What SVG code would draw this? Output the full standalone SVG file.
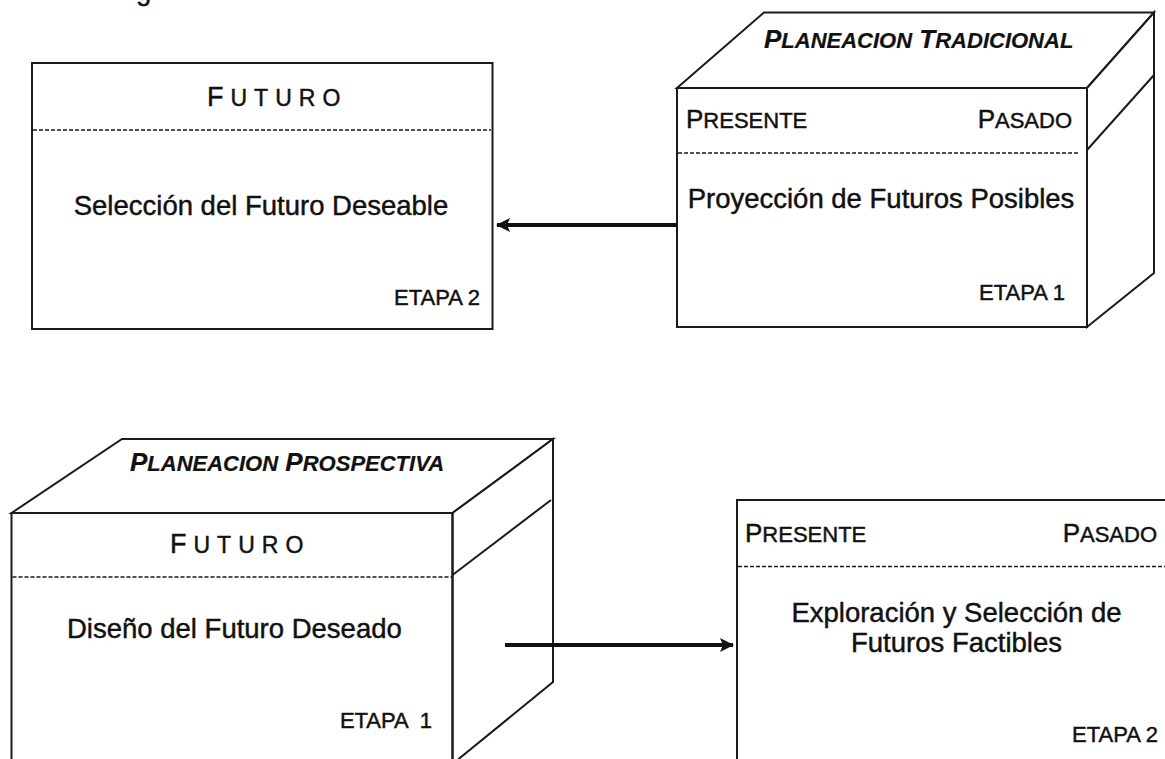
<svg xmlns="http://www.w3.org/2000/svg" width="1165" height="759" viewBox="0 0 1165 759">
<style>
.edge{fill:none;stroke:#1a1a1a;stroke-width:2;stroke-linejoin:miter}
.face{fill:#fff;stroke:#1a1a1a;stroke-width:2}
.dash{fill:none;stroke:#1a1a1a;stroke-width:1.6;stroke-dasharray:4 2}
.conn{fill:none;stroke:#111;stroke-width:4}
text{font-family:"Liberation Sans",Arial,Helvetica,sans-serif;fill:#111;stroke:#111;stroke-width:0.45}
.body{font-size:27.5px}
.etapa{font-size:22px}
.sc{font-size:26px}
.sc tspan.s{font-size:22px}
.title{font-size:26px;font-weight:bold;font-style:italic;stroke-width:0.2}
.title tspan.s{font-size:22px}
.fut{font-size:27px;letter-spacing:7px}
.fut tspan.s{font-size:23px}
</style>
<defs>
<marker id="ah" viewBox="0 0 14 14" refX="13" refY="7" markerWidth="14" markerHeight="14" markerUnits="userSpaceOnUse" orient="auto">
<path d="M0,0 L14,7 L0,14 L3,7 Z" fill="#111"/>
</marker>
</defs>
<rect width="1165" height="759" fill="#fff"/>
<text x="136" y="0" class="body">g</text>

<g id="trad-etapa2">
<rect class="face" x="32" y="63" width="460.5" height="266"/>
<line class="dash" x1="33" y1="130" x2="491" y2="130"/>
<text class="fut" x="207" y="106">F<tspan class="s">UTURO</tspan></text>
<text class="body" x="261" y="215" text-anchor="middle">Selección del Futuro Deseable</text>
<text class="etapa" x="480" y="305" text-anchor="end">ETAPA 2</text>
</g>

<g id="trad-etapa1">
<polygon class="face" points="677,88 764,12.5 1154,12.5 1087,88"/>
<polygon class="face" points="1087,88 1154,12.5 1154,273 1087,327"/>
<line class="edge" x1="1087" y1="150" x2="1154" y2="75"/>
<rect class="face" x="677" y="88" width="410" height="239"/>
<line class="dash" x1="678" y1="153" x2="1080" y2="153"/>
<text class="title" x="764" y="48">P<tspan class="s">LANEACION</tspan>  T<tspan class="s">RADICIONAL</tspan></text>
<text class="sc" x="686" y="128">P<tspan class="s">RESENTE</tspan></text>
<text class="sc" x="1072" y="128" text-anchor="end">P<tspan class="s">ASADO</tspan></text>
<text class="body" x="881" y="208" text-anchor="middle">Proyección de Futuros Posibles</text>
<text class="etapa" x="1065" y="300" text-anchor="end">ETAPA 1</text>
</g>

<g id="prosp-etapa1">
<polygon class="face" points="11.5,513 122,439 553,439 452.5,513"/>
<polygon class="face" points="452.5,513 553,439 553,682 452.5,764"/>
<line class="edge" x1="452.5" y1="575" x2="551" y2="500"/>
<polyline class="edge" points="11.5,760 11.5,513 452.5,513 452.5,760"/>
<line class="dash" x1="12.5" y1="577" x2="452" y2="577"/>
<text class="title" x="130" y="471">P<tspan class="s">LANEACION</tspan>  P<tspan class="s">ROSPECTIVA</tspan></text>
<text class="fut" x="170" y="553">F<tspan class="s">UTURO</tspan></text>
<text class="body" x="67" y="638">Diseño del Futuro Deseado</text>
<text class="etapa" x="432" y="728" text-anchor="end" xml:space="preserve">ETAPA  1</text>
</g>

<g id="prosp-etapa2">
<polyline class="edge" points="737,760 737,500 1166,500"/>
<line class="dash" x1="738" y1="566.5" x2="1165" y2="566.5"/>
<text class="sc" x="745" y="542">P<tspan class="s">RESENTE</tspan></text>
<text class="sc" x="1157" y="542" text-anchor="end">P<tspan class="s">ASADO</tspan></text>
<text class="body" x="956.5" y="622" text-anchor="middle">Exploración y Selección de</text>
<text class="body" x="956.5" y="652" text-anchor="middle">Futuros Factibles</text>
<text class="etapa" x="1158" y="742" text-anchor="end">ETAPA 2</text>
</g>

<g id="connectors">
<line class="conn" x1="677" y1="225" x2="497" y2="225" marker-end="url(#ah)"/>
<line class="conn" x1="505" y1="645" x2="733" y2="645" marker-end="url(#ah)"/>
</g>
</svg>
